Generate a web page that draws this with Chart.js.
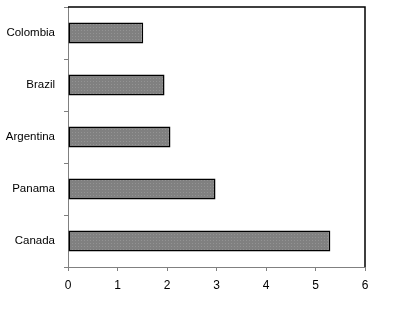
<!DOCTYPE html>
<html>
<head>
<meta charset="utf-8">
<script src="https://cdn.jsdelivr.net/npm/chart.js@4/dist/chart.umd.min.js"></script>
<style>
  html, body { margin: 0; padding: 0; background: #fff; }
  #wrap { width: 394px; height: 317px; }
</style>
</head>
<body>
<div id="wrap"><canvas id="myChart"></canvas></div>
<script>
const paises = ["Colombia", "Brazil", "Argentina", "Panama", "Canada"];
const valores = [1.52, 1.95, 2.07, 2.98, 5.30];
const ejeMin = 0;
const ejeMax = 6;

// relleno punteado gris como el original
function patronGris() {
  const c = document.createElement("canvas");
  c.width = 3;
  c.height = 3;
  const g = c.getContext("2d");
  g.fillStyle = "#808080";
  g.fillRect(0, 0, 3, 3);
  g.fillStyle = "#939393";
  g.fillRect(0, 0, 1, 1);
  return g.createPattern(c, "repeat");
}

const borde = {
  id: "borde",
  afterDraw(chart) {
    const { ctx, chartArea: a } = chart;
    ctx.save();
    ctx.strokeStyle = "#000";
    ctx.lineWidth = 1.5;
    ctx.beginPath();
    ctx.moveTo(a.left, a.top);
    ctx.lineTo(a.right, a.top);
    ctx.lineTo(a.right, a.bottom);
    ctx.stroke();
    ctx.restore();
  }
};

const ctx = document.getElementById("myChart");

new Chart(ctx, {
  type: "bar",
  data: {
    labels: paises,
    datasets: [{
      data: valores,
      backgroundColor: patronGris(),
      borderColor: "#000",
      borderWidth: 1.5,
      borderSkipped: false,
      barPercentage: 0.4,
      categoryPercentage: 1
    }]
  },
  options: {
    indexAxis: "y",
    responsive: true,
    maintainAspectRatio: false,
    animation: false,
    layout: { padding: { top: 7, right: 29, left: 0, bottom: 0 } },
    plugins: {
      legend: { display: false },
      tooltip: { enabled: false }
    },
    scales: {
      x: {
        min: ejeMin,
        max: ejeMax,
        ticks: {
          stepSize: 1,
          color: "#000",
          padding: 7,
          font: { family: "Liberation Sans, Arial", size: 12 }
        },
        grid: { drawOnChartArea: false, tickLength: 4, color: "#808080" },
        border: { color: "#808080" },
        afterFit(s) { s.height = 50; }
      },
      y: {
        ticks: {
          color: "#000",
          padding: 9,
          font: { family: "Liberation Sans, Arial", size: 11.5 }
        },
        grid: { drawOnChartArea: false, tickLength: 4, color: "#808080", offset: true },
        border: { color: "#808080" },
        afterFit(s) {
          s.width = 68;
          s.paddingTop = 0;
          s.paddingBottom = 0;
        }
      }
    }
  },
  plugins: [borde]
});
</script>
</body>
</html>
